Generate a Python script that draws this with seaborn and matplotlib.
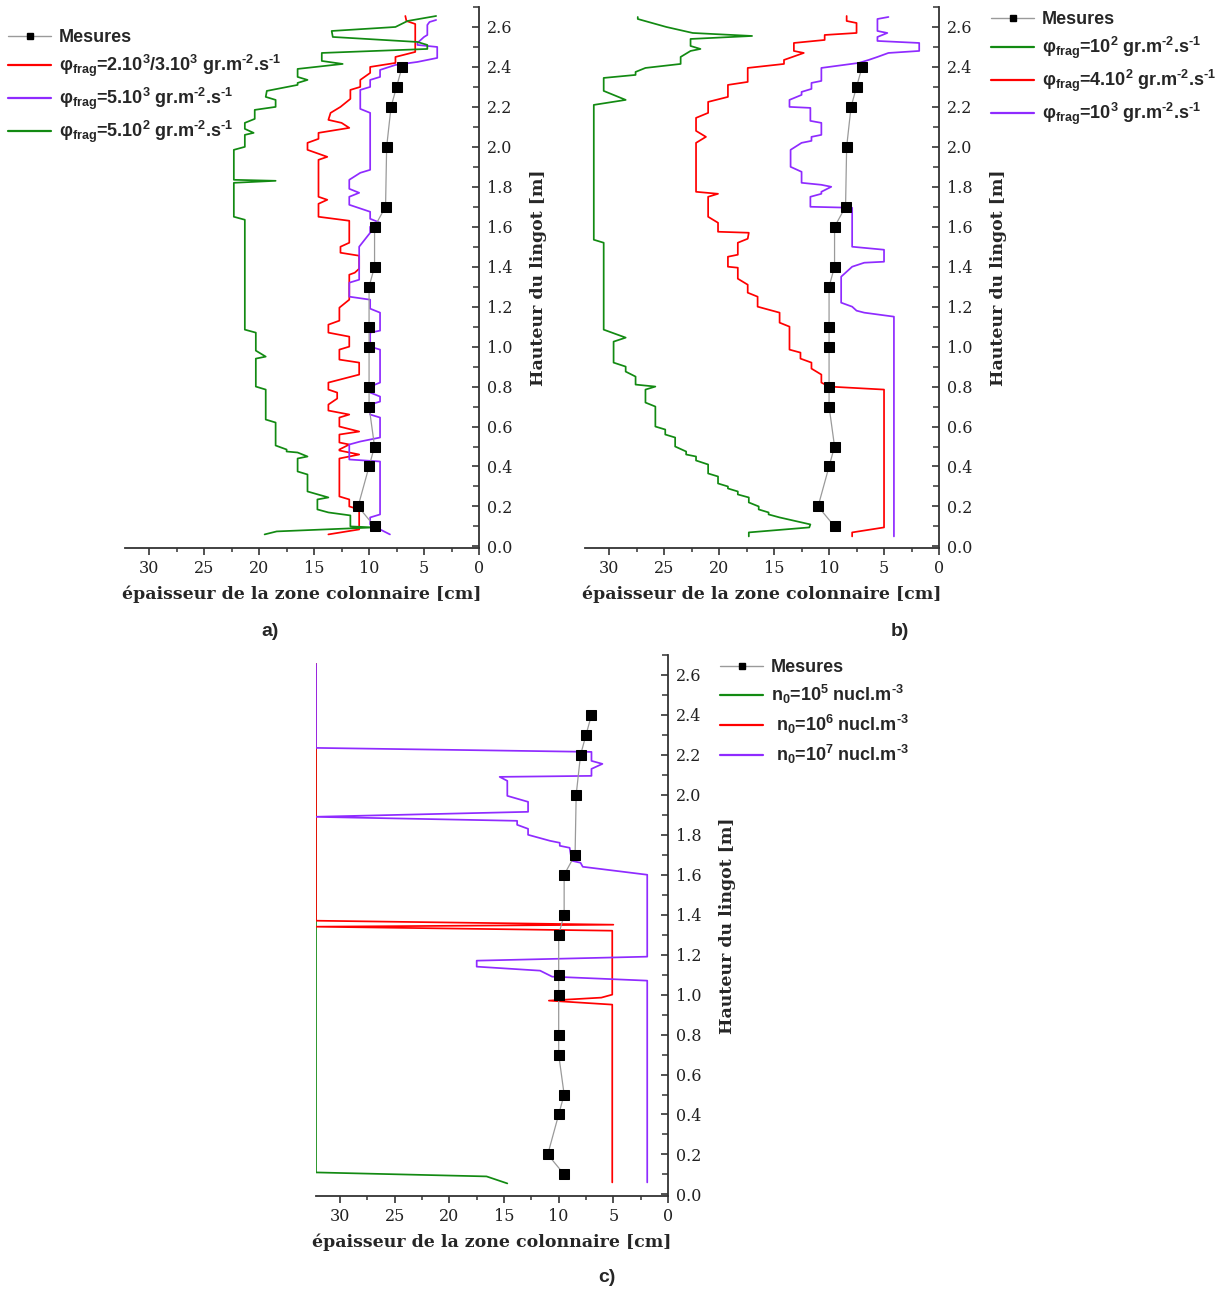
import matplotlib
matplotlib.use("Agg")
import matplotlib.pyplot as plt
from matplotlib.lines import Line2D
from matplotlib.ticker import MultipleLocator
import seaborn as sns
import pandas as pd

# ---------------- data ----------------
# Measurements (same in all panels)
mes_y = [0.1, 0.2, 0.4, 0.5, 0.7, 0.8, 1.0, 1.1, 1.3, 1.4, 1.6, 1.7, 2.0, 2.2, 2.3, 2.4]
mes_x = [9.5, 11.0, 10.0, 9.5, 10.0, 10.0, 10.0, 10.0, 10.0, 9.5, 9.5, 8.5, 8.4, 8.0, 7.5, 7.0]

# Panel a
a_green_x = [3.9, 6.5, 7.6, 13.4, 13.3, 5.6, 4.7, 4.7, 14.3, 14.3, 12.4, 16.5, 16.5, 15.6, 16.5, 16.5,
             19.3, 19.4, 18.5, 18.5, 20.4, 20.4, 21.3, 21.3, 20.5, 21.3, 21.3, 22.3, 22.3, 18.5, 22.3,
             22.3, 21.3, 21.3, 20.3, 20.3, 19.4, 20.3, 20.3, 19.4, 19.4, 18.5, 18.5, 17.5, 17.5, 16.5,
             15.6, 16.5, 16.5, 15.6, 15.6, 13.7, 14.7, 14.7, 13.7, 11.7, 11.7, 9.6, 18.4, 19.5]
a_green_y = [2.655, 2.63, 2.6, 2.58, 2.55, 2.525, 2.51, 2.49, 2.47, 2.43, 2.415, 2.39, 2.35, 2.335, 2.32, 2.31,
             2.28, 2.25, 2.235, 2.2, 2.185, 2.14, 2.12, 2.09, 2.07, 2.06, 2.0, 1.985, 1.835, 1.83, 1.82,
             1.65, 1.635, 1.085, 1.07, 0.98, 0.95, 0.94, 0.8, 0.785, 0.635, 0.62, 0.505, 0.485, 0.475, 0.47,
             0.45, 0.44, 0.375, 0.36, 0.275, 0.245, 0.235, 0.185, 0.17, 0.155, 0.1, 0.095, 0.075, 0.06]

a_red_x = [6.7, 6.6, 5.8, 5.8, 7.6, 7.6, 9.9, 9.9, 10.8, 10.8, 11.7, 11.7, 12.6, 13.5, 13.7, 12.5, 11.8,
           14.6, 14.6, 15.6, 15.6, 13.8, 14.6, 14.6, 13.8, 14.6, 14.6, 11.8, 11.8, 12.6, 12.6, 10.9, 10.9,
           11.3, 11.8, 11.8, 12.7, 12.7, 13.7, 13.7, 11.8, 11.8, 12.7, 12.7, 10.9, 10.9, 13.7, 13.7, 12.9,
           12.9, 13.7, 13.7, 11.8, 12.7, 12.7, 10.9, 12.7, 12.7, 11.8, 12.7, 12.7, 10.9, 12.7, 12.7, 11.8,
           11.8, 10.9, 10.9, 13.7]
a_red_y = [2.655, 2.63, 2.615, 2.475, 2.45, 2.42, 2.4, 2.37, 2.335, 2.3, 2.285, 2.24, 2.2, 2.17, 2.135, 2.12, 2.095,
           2.07, 2.04, 2.02, 1.985, 1.95, 1.935, 1.75, 1.735, 1.715, 1.65, 1.63, 1.52, 1.5, 1.47, 1.455, 1.39,
           1.37, 1.36, 1.235, 1.195, 1.13, 1.11, 1.07, 1.05, 1.0, 0.985, 0.935, 0.92, 0.86, 0.82, 0.785, 0.77,
           0.74, 0.71, 0.68, 0.66, 0.645, 0.6, 0.575, 0.56, 0.52, 0.51, 0.485, 0.48, 0.46, 0.44, 0.25, 0.235,
           0.2, 0.185, 0.085, 0.06]

a_purple_x = [3.9, 4.5, 4.7, 4.7, 5.0, 5.6, 5.6, 3.8, 3.8, 5.6, 7.6, 9.0, 9.0, 9.9, 9.9, 10.8, 10.8, 9.9,
              9.9, 10.8, 11.8, 11.8, 10.9, 11.8, 11.8, 9.9, 9.9, 9.0, 9.9, 9.9, 10.9, 10.9, 11.8, 11.8,
              9.9, 9.9, 9.0, 9.0, 9.9, 9.9, 9.0, 9.0, 9.9, 9.9, 9.0, 9.0, 9.9, 9.9, 9.0, 9.0, 10.8, 11.8,
              11.8, 9.0, 9.0, 9.9, 9.9, 8.1]
a_purple_y = [2.635, 2.625, 2.61, 2.56, 2.55, 2.52, 2.51, 2.5, 2.445, 2.425, 2.41, 2.385, 2.35, 2.335, 2.3,
              2.285, 2.19, 2.17, 1.885, 1.87, 1.835, 1.79, 1.77, 1.75, 1.71, 1.675, 1.64, 1.62, 1.6, 1.57,
              1.5, 1.335, 1.32, 1.25, 1.235, 1.19, 1.17, 1.08, 1.07, 1.0, 0.985, 0.82, 0.8, 0.77, 0.75,
              0.725, 0.71, 0.66, 0.645, 0.545, 0.525, 0.51, 0.435, 0.425, 0.16, 0.145, 0.11, 0.06]

# Panel b
b_green_x = [27.4, 27.4, 24.8, 22.4, 17.0, 22.6, 22.6, 21.7, 22.6, 23.5, 23.5, 26.7, 27.6, 27.6, 30.5,
             30.5, 28.5, 31.4, 31.4, 30.5, 30.5, 28.5, 29.6, 29.6, 28.5, 28.5, 27.6, 27.6, 25.8, 26.7,
             26.7, 25.8, 25.8, 24.9, 24.9, 24.0, 24.0, 23.0, 23.0, 22.1, 22.1, 21.0, 21.0, 20.1, 20.1,
             19.2, 19.2, 18.3, 18.3, 17.3, 17.3, 16.4, 16.4, 15.5, 15.5, 14.5, 11.7, 11.8, 17.3, 17.3]
b_green_y = [2.65, 2.64, 2.6, 2.57, 2.555, 2.54, 2.505, 2.49, 2.48, 2.45, 2.415, 2.395, 2.375, 2.36, 2.345,
             2.28, 2.235, 2.21, 1.535, 1.52, 1.085, 1.045, 1.025, 0.92, 0.9, 0.875, 0.85, 0.81, 0.8, 0.785,
             0.72, 0.7, 0.6, 0.585, 0.56, 0.545, 0.5, 0.475, 0.46, 0.45, 0.43, 0.41, 0.365, 0.35, 0.315,
             0.3, 0.29, 0.275, 0.26, 0.245, 0.22, 0.2, 0.185, 0.17, 0.16, 0.145, 0.11, 0.095, 0.07, 0.05]

b_red_x = [8.4, 8.4, 7.5, 7.5, 10.4, 10.4, 13.2, 13.2, 12.3, 14.1, 14.1, 17.4, 17.4, 19.2, 19.2, 21.0, 21.0,
           22.1, 22.1, 21.2, 22.1, 22.1, 20.1, 21.0, 21.0, 20.1, 20.1, 17.3, 17.4, 18.3, 18.3, 19.2, 19.2,
           18.3, 18.3, 17.4, 17.4, 16.5, 16.5, 14.5, 14.5, 13.6, 13.6, 12.6, 12.6, 11.6, 11.6, 10.7, 10.7,
           10.0, 5.0, 5.0, 7.9, 7.9]
b_red_y = [2.655, 2.63, 2.62, 2.57, 2.56, 2.535, 2.52, 2.48, 2.47, 2.435, 2.415, 2.395, 2.325, 2.31, 2.25,
           2.225, 2.17, 2.145, 2.08, 2.05, 2.02, 1.775, 1.765, 1.75, 1.65, 1.62, 1.575, 1.57, 1.54, 1.52,
           1.46, 1.45, 1.4, 1.395, 1.34, 1.31, 1.27, 1.25, 1.2, 1.17, 1.12, 1.1, 0.985, 0.97, 0.94, 0.92,
           0.89, 0.86, 0.82, 0.8, 0.785, 0.095, 0.07, 0.05]

b_purple_x = [4.6, 5.6, 5.6, 4.7, 5.6, 5.6, 1.8, 1.8, 4.6, 5.6, 6.4, 7.3, 10.7, 10.7, 11.6, 11.6, 12.5,
              12.5, 13.6, 13.6, 11.7, 11.7, 10.7, 10.7, 11.6, 11.6, 12.5, 13.5, 13.5, 12.5, 12.5, 10.7,
              9.8, 10.7, 10.7, 11.7, 11.7, 7.9, 7.9, 5.0, 5.0, 6.8, 7.9, 8.9, 8.9, 7.9, 7.5, 6.8, 4.1, 4.1]
b_purple_y = [2.65, 2.64, 2.58, 2.57, 2.55, 2.53, 2.52, 2.48, 2.47, 2.45, 2.435, 2.42, 2.395, 2.33, 2.32,
              2.29, 2.275, 2.26, 2.235, 2.2, 2.195, 2.13, 2.12, 2.06, 2.05, 2.03, 2.02, 1.985, 1.9, 1.875,
              1.82, 1.81, 1.8, 1.775, 1.765, 1.75, 1.7, 1.695, 1.5, 1.485, 1.425, 1.42, 1.4, 1.35, 1.22,
              1.2, 1.18, 1.17, 1.15, 0.05]

# Panel c
c_green_x = [32.2, 32.2, 16.6, 14.7]
c_green_y = [2.655, 0.11, 0.09, 0.055]

c_red_x = [32.2, 32.2, 5.0, 32.2, 5.1, 5.1, 6.1, 10.9, 5.1, 5.1]
c_red_y = [2.655, 1.37, 1.35, 1.34, 1.32, 1.0, 0.985, 0.97, 0.95, 0.06]

c_purple_x = [32.2, 32.2, 7.0, 7.0, 6.0, 7.0, 7.0, 15.4, 14.7, 14.7, 12.8, 12.8, 32.4, 13.8, 13.8, 12.8,
              12.8, 10.8, 9.9, 9.9, 9.0, 8.8, 8.0, 7.8, 1.9, 1.9, 17.5, 17.5, 11.7, 10.6, 1.9, 1.9]
c_purple_y = [2.655, 2.235, 2.215, 2.17, 2.155, 2.13, 2.095, 2.09, 2.07, 1.995, 1.965, 1.915, 1.89, 1.87,
              1.85, 1.83, 1.8, 1.77, 1.76, 1.745, 1.735, 1.67, 1.66, 1.64, 1.6, 1.19, 1.17, 1.14, 1.12,
              1.09, 1.07, 0.06]

legend_a = ["Mesures",
            "φ$_{\\mathrm{frag}}$=2.10$^{3}$/3.10$^{3}$ gr.m$^{\\mathrm{‐2}}$.s$^{\\mathrm{‐1}}$",
            "φ$_{\\mathrm{frag}}$=5.10$^{3}$ gr.m$^{\\mathrm{‐2}}$.s$^{\\mathrm{‐1}}$",
            "φ$_{\\mathrm{frag}}$=5.10$^{2}$ gr.m$^{\\mathrm{‐2}}$.s$^{\\mathrm{‐1}}$"]
legend_b = ["Mesures",
            "φ$_{\\mathrm{frag}}$=10$^{2}$ gr.m$^{\\mathrm{‐2}}$.s$^{\\mathrm{‐1}}$",
            "φ$_{\\mathrm{frag}}$=4.10$^{2}$ gr.m$^{\\mathrm{‐2}}$.s$^{\\mathrm{‐1}}$",
            "φ$_{\\mathrm{frag}}$=10$^{3}$ gr.m$^{\\mathrm{‐2}}$.s$^{\\mathrm{‐1}}$"]
legend_c = ["Mesures",
            "n$_{\\mathrm{0}}$=10$^{5}$ nucl.m$^{\\mathrm{‐3}}$",
            " n$_{\\mathrm{0}}$=10$^{6}$ nucl.m$^{\\mathrm{‐3}}$",
            " n$_{\\mathrm{0}}$=10$^{7}$ nucl.m$^{\\mathrm{‐3}}$"]

x_label = "épaisseur de la zone colonnaire [cm]"
y_label = "Hauteur du lingot [m]"

# ---------------- style ----------------
sns.set_style("ticks")
plt.rcParams["font.family"] = ["DejaVu Serif"]
plt.rcParams["mathtext.fontset"] = "custom"
plt.rcParams["mathtext.rm"] = "Liberation Sans:bold"
plt.rcParams["mathtext.it"] = "Liberation Sans:bold"
plt.rcParams["mathtext.bf"] = "Liberation Sans:bold"
plt.rcParams["mathtext.fallback"] = "cm"

RED = "#FF0000"
PURPLE = "#8F2BFF"
GREEN = "#128A12"
GRAY = "#9A9A9A"
LW = 1.25

W, H = 1219, 1290
fig = plt.figure(figsize=(W / 100, H / 100), dpi=100)


def make_ax(l, r, t, b):
    return fig.add_axes([l / W, 1 - b / H, (r - l) / W, (b - t) / H])


def curve(ax, xs, ys, color):
    df = pd.DataFrame({"x": xs, "y": ys})
    sns.lineplot(data=df, x="x", y="y", sort=False, estimator=None, ax=ax,
                 color=color, lw=LW)


def mesures(ax):
    df = pd.DataFrame({"x": mes_x, "y": mes_y})
    sns.lineplot(data=df, x="x", y="y", sort=False, estimator=None, ax=ax,
                 color=GRAY, lw=0.9, marker="s", markersize=6.5,
                 markerfacecolor="black", markeredgecolor="black", zorder=5)


def style_ax(ax):
    ax.set_xlim(32.2, 0)
    ax.set_ylim(-0.008, 2.7)
    ax.yaxis.tick_right()
    ax.yaxis.set_label_position("right")
    for s in ["left", "top"]:
        ax.spines[s].set_visible(False)
    for s in ["right", "bottom"]:
        ax.spines[s].set_linewidth(1.3)
        ax.spines[s].set_color("#333333")
    ax.xaxis.set_minor_locator(MultipleLocator(2.5))
    ax.yaxis.set_major_locator(MultipleLocator(0.2))
    ax.yaxis.set_minor_locator(MultipleLocator(0.1))
    ax.set_xticks([30, 25, 20, 15, 10, 5, 0])
    ax.set_xticklabels(["30", "25", "20", "15", "10", "5", "0"])
    ax.yaxis.set_major_formatter(plt.FormatStrFormatter("%.1f"))
    ax.tick_params(axis="x", which="major", direction="out", length=5, width=1.2,
                   labelsize=11.5, colors="#333333", labelcolor="#222222")
    ax.tick_params(axis="x", which="minor", direction="out", length=3, width=1.1, colors="#333333")
    ax.tick_params(axis="y", which="major", direction="in", length=5, width=1.2,
                   labelsize=11.5, colors="#333333", labelcolor="#222222", pad=6)
    ax.tick_params(axis="y", which="minor", direction="in", length=4, width=1.1, colors="#333333")
    ax.set_xlabel(x_label, fontsize=12.5, fontweight="bold", labelpad=6)
    ax.set_ylabel(y_label, fontsize=12.5, fontweight="bold", labelpad=12)
    ax.grid(False)


def make_legend(ax, labels, colors, x, y):
    handles = [Line2D([0], [0], color=GRAY, lw=1, marker="s", markersize=5,
                      markerfacecolor="black", markeredgecolor="black")]
    handles += [Line2D([0], [0], color=c, lw=1.6) for c in colors]
    leg = ax.legend(handles, labels, loc="upper left",
                    bbox_to_anchor=(x / W, 1 - y / H), bbox_transform=fig.transFigure,
                    frameon=False, handlelength=2.4, handletextpad=0.4,
                    labelspacing=0.38, borderaxespad=0, borderpad=0,
                    prop={"family": "Liberation Sans", "weight": "bold", "size": 13})
    return leg


# ---------------- panel a ----------------
ax_a = make_ax(125, 479, 7, 548)
curve(ax_a, a_red_x, a_red_y, RED)
curve(ax_a, a_purple_x, a_purple_y, PURPLE)
curve(ax_a, a_green_x, a_green_y, GREEN)
mesures(ax_a)
style_ax(ax_a)
make_legend(ax_a, legend_a, [RED, PURPLE, GREEN], 8, 29)

# ---------------- panel b ----------------
ax_b = make_ax(585, 939, 7, 548)
curve(ax_b, b_green_x, b_green_y, GREEN)
curve(ax_b, b_red_x, b_red_y, RED)
curve(ax_b, b_purple_x, b_purple_y, PURPLE)
mesures(ax_b)
style_ax(ax_b)
make_legend(ax_b, legend_b, [GREEN, RED, PURPLE], 991, 11)

# ---------------- panel c ----------------
ax_c = make_ax(316, 668, 655, 1196)
curve(ax_c, c_green_x, c_green_y, GREEN)
curve(ax_c, c_red_x, c_red_y, RED)
curve(ax_c, c_purple_x, c_purple_y, PURPLE)
mesures(ax_c)
style_ax(ax_c)
make_legend(ax_c, legend_c, [GREEN, RED, PURPLE], 720, 659)

# panel letters
for txt, px, py in [("a)", 270, 632), ("b)", 900, 632), ("c)", 607, 1278)]:
    fig.text(px / W, 1 - py / H, txt, ha="center", va="center",
             fontsize=14, fontweight="bold", family="Liberation Sans")

fig.savefig("out.png", dpi=100)
